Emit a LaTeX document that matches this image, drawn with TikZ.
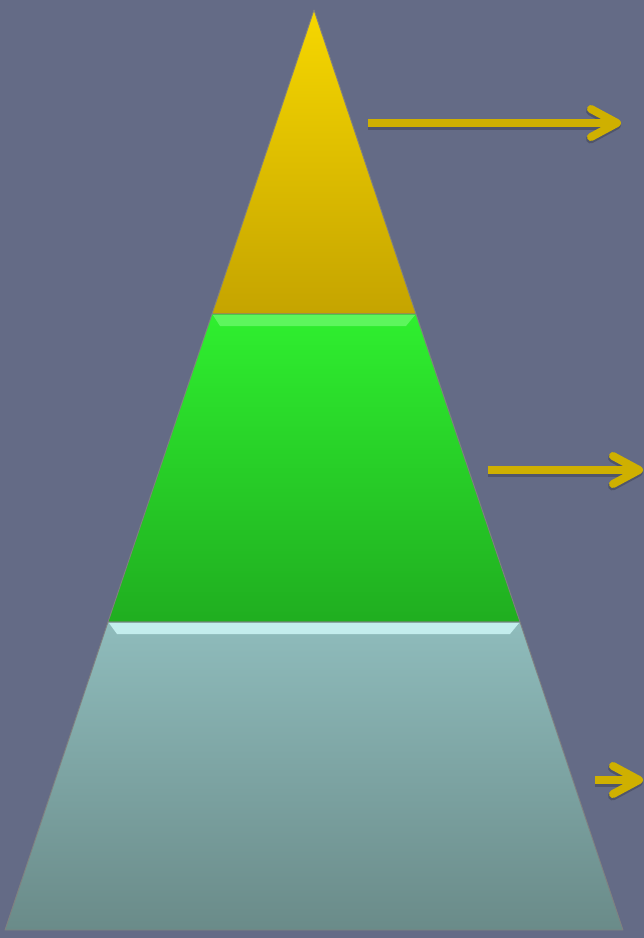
\documentclass[tikz,border=0pt]{standalone}
\usetikzlibrary{arrows.meta}
\definecolor{SlateBg}{HTML}{646B86}
\definecolor{GoldTop}{HTML}{F6D700}
\definecolor{GoldBottom}{HTML}{C5A400}
\definecolor{GreenTop}{HTML}{2FEF2F}
\definecolor{GreenBottom}{HTML}{20AE20}
\definecolor{GreenGlow}{HTML}{66F866}
\definecolor{TealTop}{HTML}{8FBCBC}
\definecolor{TealBottom}{HTML}{6A8B89}
\definecolor{TealGlow}{HTML}{CDF6F6}
\definecolor{PointerGold}{HTML}{CFB000}
\tikzset{
  layer/.style={draw=black!50, line width=0.9pt, line join=round},
  glow/.style={opacity=0.85},
  pointer/.style={PointerGold, line width=8pt,
    -{Straight Barb[length=26pt, width=28pt, round]}},
  pointershade/.style={black, opacity=0.2, line width=9pt,
    -{Straight Barb[length=26pt, width=28pt, round]}}
}
\begin{document}
\begin{tikzpicture}[x=1pt, y=-1pt]
  \fill[SlateBg] (0,0) rectangle (644,938);
  \useasboundingbox (0,0) rectangle (644,938);

  % pyramid corners
  \coordinate (apex) at (314,10);
  \coordinate (yl) at (212,314);
  \coordinate (yr) at (416,314);
  \coordinate (gl) at (108,622);
  \coordinate (gr) at (520,622);
  \coordinate (tl) at (5,930);
  \coordinate (tr) at (623,930);

  % layers
  \shadedraw[layer, top color=GoldTop, bottom color=GoldBottom]
    (apex) -- (yr) -- (yl) -- cycle;
  \shadedraw[layer, top color=GreenTop, bottom color=GreenBottom]
    (yl) -- (yr) -- (gr) -- (gl) -- cycle;
  \shadedraw[layer, top color=TealTop, bottom color=TealBottom]
    (gl) -- (gr) -- (tr) -- (tl) -- cycle;

  % top bevels
  \fill[glow, GreenGlow] (213,315) -- (415,315) -- (406,326) -- (220,326) -- cycle;
  \fill[glow, TealGlow] (109,623) -- (519,623) -- (510,634) -- (117,634) -- cycle;

  % pointers
  \coordinate (p1s) at (368,123);
  \coordinate (p1e) at (621,123);
  \coordinate (p2s) at (488,470);
  \coordinate (p2e) at (643,470);
  \coordinate (p3s) at (595,780);
  \coordinate (p3e) at (643,780);
  \foreach \s/\e in {p1s/p1e, p2s/p2e, p3s/p3e} {
    \draw[pointershade, transform canvas={yshift=-2pt}] (\s) -- (\e);
    \draw[pointer] (\s) -- (\e);
  }
\end{tikzpicture}
\end{document}
